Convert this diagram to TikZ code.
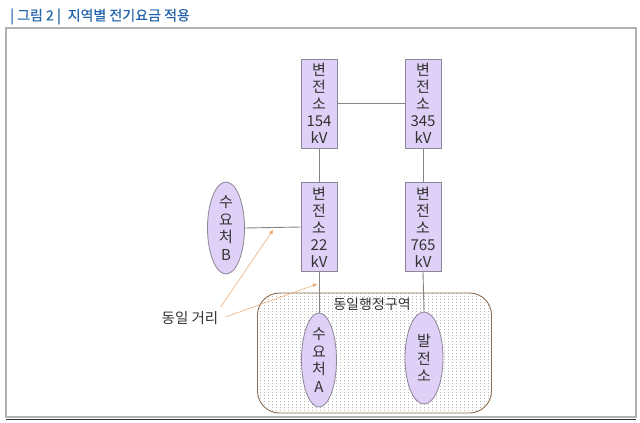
\documentclass[tikz,border=0pt]{standalone}
\usepackage{fontspec}
\setmainfont{Noto Sans CJK KR}
\newfontfamily\titlefont[FakeBold=0.5]{Noto Sans CJK KR}
\usetikzlibrary{patterns,arrows.meta,shapes.geometric}
\definecolor{boxfill}{HTML}{DED0F6}
\definecolor{boxline}{HTML}{8A8696}
\definecolor{conn}{HTML}{858585}
\definecolor{zoneline}{HTML}{8C6E50}
\definecolor{titleblue}{HTML}{2364AA}
\definecolor{annot}{HTML}{EBA56A}
\definecolor{txt}{HTML}{333333}
\pgfdeclarepatternformonly{sparsedots}{\pgfpoint{-0.5pt}{-0.5pt}}{\pgfpoint{4.5pt}{3.5pt}}{\pgfpoint{4pt}{3pt}}{%
  \pgfpathrectangle{\pgfpoint{0pt}{0pt}}{\pgfpoint{1pt}{1pt}}\pgfusepath{fill}}
\tikzset{
  substation/.style={draw=boxline, fill=boxfill, line width=0.8pt, minimum width=36pt, minimum height=89pt, inner sep=0pt, align=center, text=txt, font=\fontsize{15}{17}\selectfont},
  demand/.style={ellipse, draw=boxline, fill=boxfill, line width=0.8pt, minimum width=37pt, minimum height=92pt, inner sep=0pt, align=center, text=txt, font=\fontsize{15}{17.5}\selectfont},
  wire/.style={draw=conn, line width=0.9pt},
  annotline/.style={draw=annot, line width=0.5pt, -{Triangle[length=4pt,width=3.5pt]}},
}
\begin{document}
\begin{tikzpicture}[x=1pt,y=-1pt]
\useasboundingbox (0,0) rectangle (640,423);
\fill[white] (0,0) rectangle (640,423);
% title
\node[anchor=west, text=titleblue, font=\titlefont\fontsize{14}{16}\selectfont, inner sep=0pt] (title) at (10,16.5) {| 그림 2 |\enspace 지역별 전기요금 적용};
% frame
\draw[gray!60, line width=1.2pt] (6,28) rectangle (636,417);
\draw[black!80, line width=1.2pt] (6,419.5) -- (636,419.5);
% zone
\node[draw=zoneline, line width=0.9pt, rounded corners=22pt, pattern=sparsedots, pattern color=gray!55, minimum width=234pt, minimum height=120pt, inner sep=0pt] (zone) at (374.5,353) {};
\node[text=txt, font=\fontsize{14}{16}\selectfont, inner sep=1pt] (zonelabel) at (372,304) {동일행정구역};
% substations
\node[substation] (s154) at (319,103.5) {변\\전\\소\\154\\kV};
\node[substation] (s345) at (423,103.5) {변\\전\\소\\345\\kV};
\node[substation] (s22) at (319,227) {변\\전\\소\\22\\kV};
\node[substation] (s765) at (423,227) {변\\전\\소\\765\\kV};
% wires
\draw[wire] (s154.east) -- (s345.west);
\draw[wire] (s154.south) -- (s22.north);
\draw[wire] (s345.south) -- (s765.north);
% ellipses
\node[demand] (sB) at (226,228) {수\\요\\처\\B};
\node[demand, minimum width=35pt, minimum height=94pt] (sA) at (319,360) {수\\요\\처\\A};
\node[demand, minimum width=38pt] (gen) at (424,358) {발\\전\\소};
\draw[wire] (sB.east) -- (s22.west);
\draw[wire] (s22.south) -- (sA.north);
\draw[wire] (s765.south) -- (gen.north);
% distance annotation
\node[text=txt, font=\fontsize{14.5}{16}\selectfont, inner sep=1pt] (dist) at (190,318) {동일 거리};
\coordinate (tipB) at (273,230);
\coordinate (tipA) at (317,284);
\draw[annotline] ([shift={(1,-3)}]dist.north east) -- (tipB);
\draw[annotline] ([shift={(6,-1)}]dist.east) -- (tipA);
\end{tikzpicture}
\end{document}
